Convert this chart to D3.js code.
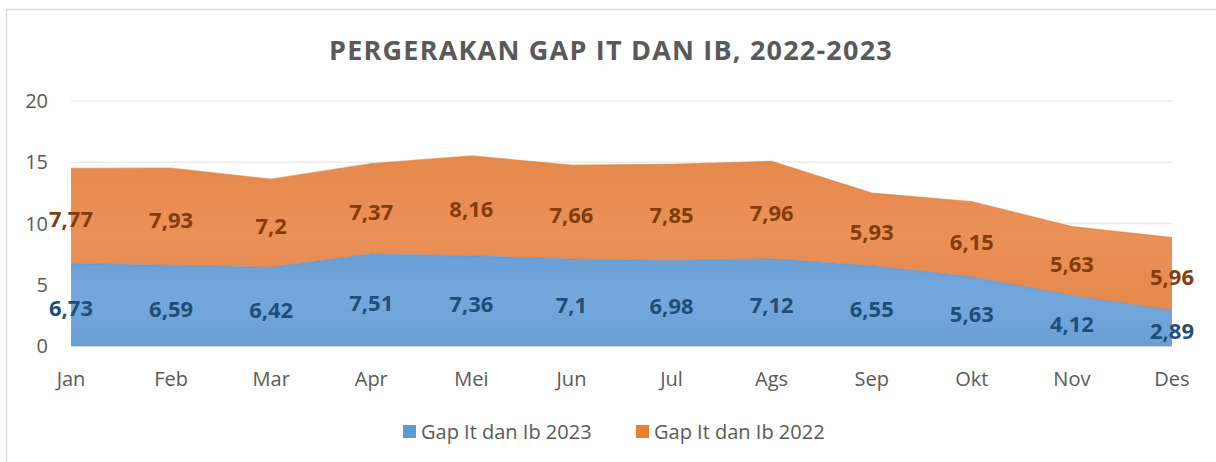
<!DOCTYPE html>
<html>
<head>
<meta charset="utf-8">
<script src="https://cdn.jsdelivr.net/npm/d3@7"></script>
<style>
  html, body { margin: 0; padding: 0; background: #fff; }
  svg { display: block; font-family: "Open Sans", "Noto Sans", sans-serif; }
</style>
</head>
<body>
<svg id="chart" width="1216" height="462"></svg>
<script>
const months = ["Jan","Feb","Mar","Apr","Mei","Jun","Jul","Ags","Sep","Okt","Nov","Des"];
const gap2023 = [6.73, 6.59, 6.42, 7.51, 7.36, 7.1, 6.98, 7.12, 6.55, 5.63, 4.12, 2.89];
const gap2022 = [7.77, 7.93, 7.2, 7.37, 8.16, 7.66, 7.85, 7.96, 5.93, 6.15, 5.63, 5.96];
const seriesNames = ["Gap It dan Ib 2023", "Gap It dan Ib 2022"];
const yTicks = [0, 5, 10, 15, 20];

const W = 1216, H = 462;
const svg = d3.select("#chart");

// chart border (runs off right/bottom like the source screenshot)
svg.append("rect")
    .attr("x", 6.5).attr("y", 9.5)
    .attr("width", W + 20).attr("height", H + 20)
    .attr("fill", "none").attr("stroke", "#d9d9d9").attr("stroke-width", 1.5);

const x = d3.scalePoint().domain(months).range([71, 1172]);
const y = d3.scaleLinear().domain([0, 20]).range([346, 101]);

const defs = svg.append("defs");
function grad(id, c1, c2) {
    const g = defs.append("linearGradient").attr("id", id)
        .attr("x1", 0).attr("y1", 0).attr("x2", 0).attr("y2", 1);
    g.append("stop").attr("offset", "0%").attr("stop-color", c1);
    g.append("stop").attr("offset", "50%").attr("stop-color", c2);
    g.append("stop").attr("offset", "100%").attr("stop-color", c1);
}
grad("gBlue", "#6a9fd6", "#74a8dc");
grad("gOrange", "#e5894c", "#ea9158");

// gridlines
svg.append("g").selectAll("line")
    .data(yTicks.filter(d => d > 0))
    .join("line")
    .attr("x1", 71).attr("x2", 1172)
    .attr("y1", d => y(d)).attr("y2", d => y(d))
    .attr("stroke", "#ececec").attr("stroke-width", 1.5);

const rows = months.map((m, i) => ({ m, a: gap2023[i], b: gap2022[i] }));
const stack = d3.stack().keys(["a", "b"])(rows);

const area = d3.area()
    .x(d => x(d.data.m))
    .y0(d => y(d[0]))
    .y1(d => y(d[1]));

const fills = ["url(#gBlue)", "url(#gOrange)"];
const edge = ["#5e93cc", "#dc7d3f"];
svg.append("g").selectAll("path")
    .data(stack)
    .join("path")
    .attr("d", area)
    .attr("fill", (d, i) => fills[i]);

// subtle top edges
const topLine = d3.line().x(d => x(d.data.m)).y(d => y(d[1]));
svg.append("g").selectAll("path")
    .data(stack)
    .join("path")
    .attr("d", topLine)
    .attr("fill", "none")
    .attr("stroke", (d, i) => edge[i])
    .attr("stroke-width", 1.2)
    .attr("opacity", 0.6);

// baseline
svg.append("line")
    .attr("x1", 71).attr("x2", 1172)
    .attr("y1", y(0) + 0.5).attr("y2", y(0) + 0.5)
    .attr("stroke", "#d9d9d9").attr("stroke-width", 1);

// y tick labels
svg.append("g").selectAll("text")
    .data(yTicks)
    .join("text")
    .attr("x", 48).attr("y", d => y(d))
    .attr("dy", "0.36em")
    .attr("text-anchor", "end")
    .attr("font-size", "20px")
    .attr("fill", "#595959")
    .text(d => d);

// x tick labels
svg.append("g").selectAll("text")
    .data(months)
    .join("text")
    .attr("x", d => x(d)).attr("y", 379)
    .attr("dy", "0.36em")
    .attr("text-anchor", "middle")
    .attr("font-size", "20px")
    .attr("fill", "#595959")
    .text(d => d);

// data labels, centred in each band
const labelColors = ["#1f4e79", "#843c0c"];
stack.forEach((s, si) => {
    svg.append("g").selectAll("text")
        .data(s)
        .join("text")
        .attr("x", d => x(d.data.m))
        .attr("y", d => y((d[0] + d[1]) / 2) + 3)
        .attr("dy", "0.36em")
        .attr("text-anchor", "middle")
        .attr("font-size", "22px")
        .attr("font-weight", "bold")
        .attr("fill", labelColors[si])
        .text(d => String(+(d[1] - d[0]).toFixed(2)).replace(".", ","));
});

// title
svg.append("text")
    .attr("x", 611).attr("y", 50)
    .attr("dy", "0.36em")
    .attr("text-anchor", "middle")
    .attr("font-size", "27px")
    .attr("font-weight", "bold")
    .attr("letter-spacing", "1.2px")
    .attr("fill", "#595959")
    .text("PERGERAKAN GAP IT DAN IB, 2022-2023");

// legend
const legendColors = ["#5b9bd5", "#ed7d31"];
const legendX = [403, 636];
const lg = svg.append("g").selectAll("g")
    .data(seriesNames)
    .join("g")
    .attr("transform", (d, i) => `translate(${legendX[i]}, 432)`);
lg.append("rect")
    .attr("x", 0).attr("y", -7)
    .attr("width", 13).attr("height", 13)
    .attr("fill", (d, i) => legendColors[i]);
lg.append("text")
    .attr("x", 18).attr("y", 0)
    .attr("dy", "0.36em")
    .attr("font-size", "20px")
    .attr("fill", "#595959")
    .text(d => d);
</script>
</body>
</html>
